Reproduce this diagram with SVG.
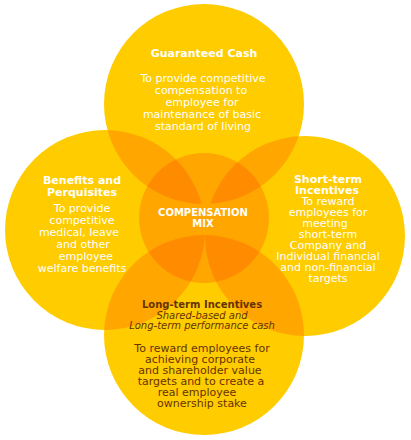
<svg xmlns="http://www.w3.org/2000/svg" width="411" height="440" viewBox="0 0 411 440">
<style>
.y{fill:#FFCC00}
.o2{fill:#FFA600}
.o3{fill:#FF8C00}
text{font-family:"DejaVu Sans",Verdana,sans-serif;font-size:11px;text-anchor:middle}
.w{fill:#FFFFFF}
.b{font-weight:bold}
.br{fill:#663300}
.i{font-style:italic;font-size:10px}
</style>
<defs>
<clipPath id="kT"><circle cx="204" cy="104" r="100"/></clipPath>
<clipPath id="kB"><circle cx="204" cy="335" r="100"/></clipPath>
<clipPath id="kC"><circle cx="204" cy="218" r="65"/></clipPath>
</defs>
<rect width="411" height="440" fill="#FFFFFF"/>
<g id="shapes">
<circle class="y" cx="204" cy="104" r="100"/>
<circle class="y" cx="105" cy="230" r="100"/>
<circle class="y" cx="305" cy="236" r="100"/>
<circle class="y" cx="204" cy="335" r="100"/>
<g clip-path="url(#kT)">
<circle class="o2" cx="105" cy="230" r="100"/>
<circle class="o2" cx="305" cy="236" r="100"/>
</g>
<g clip-path="url(#kB)">
<circle class="o2" cx="105" cy="230" r="100"/>
<circle class="o2" cx="305" cy="236" r="100"/>
</g>
<circle class="o2" cx="204" cy="218" r="65"/>
<g clip-path="url(#kC)">
<g clip-path="url(#kT)">
<circle class="o3" cx="105" cy="230" r="100"/>
<circle class="o3" cx="305" cy="236" r="100"/>
</g>
<g clip-path="url(#kB)">
<circle class="o3" cx="105" cy="230" r="100"/>
<circle class="o3" cx="305" cy="236" r="100"/>
</g>
</g>
</g>
<g id="guaranteed-cash">
<text class="w b" x="204" y="57">Guaranteed Cash</text>
<text class="w" x="203" y="82">To provide competitive</text>
<text class="w" x="201" y="94">compensation to</text>
<text class="w" x="202" y="106">employee for</text>
<text class="w" x="202" y="118">maintenance of basic</text>
<text class="w" x="203" y="130">standard of living</text>
</g>
<g id="benefits">
<text class="w b" x="82" y="184">Benefits and</text>
<text class="w b" x="82" y="196">Perquisites</text>
<text class="w" x="82" y="212">To provide</text>
<text class="w" x="82" y="224">competitive</text>
<text class="w" x="79" y="236">medical, leave</text>
<text class="w" x="83" y="248">and other</text>
<text class="w" x="86" y="260">employee</text>
<text class="w" x="82" y="272">welfare benefits</text>
</g>
<g id="short-term">
<text class="w b" x="328" y="183">Short-term</text>
<text class="w b" x="327" y="194">Incentives</text>
<text class="w" x="328" y="205">To reward</text>
<text class="w" x="328" y="216">employees for</text>
<text class="w" x="325" y="227">meeting</text>
<text class="w" x="328" y="238">short-term</text>
<text class="w" x="328" y="249">Company and</text>
<text class="w" x="328" y="260">Individual financial</text>
<text class="w" x="328" y="271">and non-financial</text>
<text class="w" x="328" y="282">targets</text>
</g>
<g id="compensation-mix">
<text class="w b" x="203" y="216" style="font-size:10px">COMPENSATION</text>
<text class="w b" x="203" y="226.5" style="font-size:10px">MIX</text>
</g>
<g id="long-term">
<text class="br b" x="202" y="308" style="font-size:10px">Long-term Incentives</text>
<text class="br i" x="202" y="318.5">Shared-based and</text>
<text class="br i" x="202" y="329">Long-term performance cash</text>
<text class="br" x="202" y="352">To reward employees for</text>
<text class="br" x="200" y="363">achieving corporate</text>
<text class="br" x="200" y="374">and shareholder value</text>
<text class="br" x="201" y="385">targets and to create a</text>
<text class="br" x="197" y="396">real employee</text>
<text class="br" x="202" y="407">ownership stake</text>
</g>
</svg>
